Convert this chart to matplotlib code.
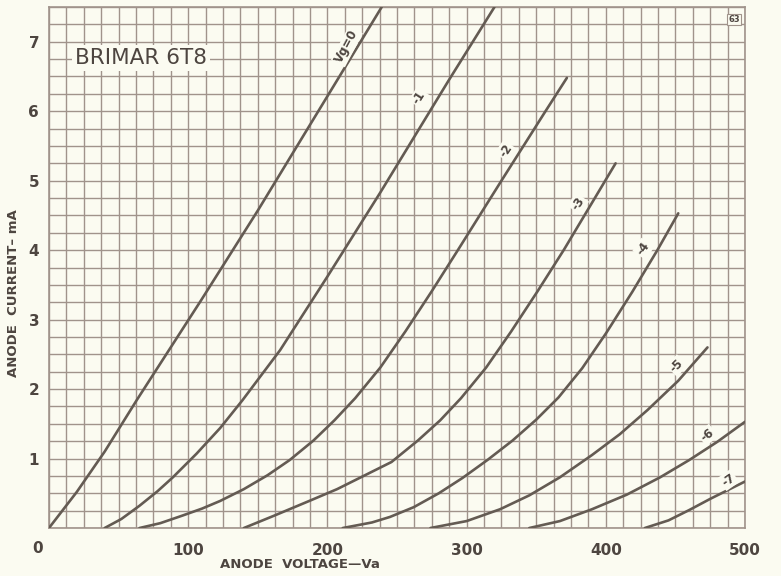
import matplotlib
matplotlib.use("Agg")
import matplotlib.pyplot as plt
import numpy as np

# anode characteristics (Va in volts, Ia in mA)
va_g0 = [0, 20, 40, 63, 109, 150, 198, 239]
ia_g0 = [0, 0.52, 1.1, 1.84, 3.27, 4.57, 6.15, 7.5]

va_g1 = [40, 52, 65, 78, 89, 106, 123, 139, 166, 200, 238, 287, 320]
ia_g1 = [0, 0.13, 0.32, 0.53, 0.73, 1.07, 1.44, 1.84, 2.56, 3.62, 4.83, 6.44, 7.5]

va_g2 = [65, 80, 96, 110, 123, 140, 157, 173, 190, 205, 220, 238, 256, 275, 294, 325, 356, 372]
ia_g2 = [0, 0.07, 0.18, 0.28, 0.39, 0.56, 0.76, 0.98, 1.26, 1.55, 1.87, 2.31, 2.83, 3.41,
         4.01, 5.0, 5.98, 6.48]

va_g3 = [140, 162, 187, 207, 227, 246, 265, 281, 296, 314, 332, 351, 370, 407]
ia_g3 = [0, 0.18, 0.39, 0.56, 0.76, 0.95, 1.26, 1.55, 1.87, 2.31, 2.83, 3.41, 4.01, 5.25]

va_g4 = [211, 232, 245, 262, 280, 297, 315, 333, 350, 366, 383, 400, 419, 437, 452]
ia_g4 = [0, 0.08, 0.16, 0.3, 0.5, 0.72, 0.98, 1.26, 1.56, 1.88, 2.3, 2.8, 3.4, 4.0, 4.53]

va_g5 = [274, 300, 324, 345, 367, 390, 410, 430, 452, 473]
ia_g5 = [0, 0.1, 0.27, 0.47, 0.73, 1.05, 1.35, 1.7, 2.12, 2.6]

va_g6 = [345, 367, 390, 415, 439, 460, 480, 500]
ia_g6 = [0, 0.1, 0.27, 0.48, 0.73, 0.98, 1.24, 1.53]

va_g7 = [428, 445, 460, 475, 490, 500]
ia_g7 = [0, 0.11, 0.26, 0.42, 0.57, 0.67]

curve_labels = ["Vg=0", "-1", "-2", "-3", "-4", "-5", "-6", "-7"]
label_va = [214, 266, 328, 380, 427, 451, 473, 488]
label_ia = [6.93, 6.19, 5.43, 4.67, 4.02, 2.34, 1.34, 0.69]
label_rot = [62, 58, 56, 55, 55, 45, 38, 35]

x_ticks = [100, 200, 300, 400, 500]
y_ticks = [1, 2, 3, 4, 5, 6, 7]

PAPER = "#fbfbf1"
INK = "#4d4540"
GRID = "#a0938b"
CURVE = "#645b53"


def draw_grid(ax):
    for v in np.arange(0, 500.1, 12.5):
        ax.axvline(v, color=GRID, lw=1.0, zorder=1)
    for i in np.arange(0, 7.51, 0.25):
        ax.axhline(i, color=GRID, lw=1.0, zorder=1)


def main():
    fig = plt.figure(figsize=(7.81, 5.76), dpi=100, facecolor=PAPER)
    ax = fig.add_axes([0.0627, 0.0833, 0.8913, 0.9045])
    ax.set_facecolor(PAPER)
    ax.set_xlim(0, 500)
    ax.set_ylim(0, 7.5)

    draw_grid(ax)

    curves = [(va_g0, ia_g0), (va_g1, ia_g1), (va_g2, ia_g2), (va_g3, ia_g3),
              (va_g4, ia_g4), (va_g5, ia_g5), (va_g6, ia_g6), (va_g7, ia_g7)]
    for va, ia in curves:
        ax.plot(va, ia, color=CURVE, lw=1.9, solid_capstyle="round",
                solid_joinstyle="round", zorder=3)

    for text, x, y, r in zip(curve_labels, label_va, label_ia, label_rot):
        ax.text(x, y, text, rotation=r, ha="center", va="center", fontsize=8.5,
                fontweight="bold", color=INK, zorder=4,
                bbox=dict(facecolor=PAPER, edgecolor="none", pad=1.0))

    ax.text(66, 6.77, "BRIMAR 6T8", ha="center", va="center", fontsize=15.5,
            color=INK, zorder=4,
            bbox=dict(facecolor=PAPER, edgecolor="none", pad=2.0))
    ax.text(492, 7.32, "63", ha="center", va="center", fontsize=6,
            fontweight="bold", color=INK, zorder=4,
            bbox=dict(facecolor=PAPER, edgecolor=GRID, lw=0.8, pad=1.0))

    for side in ax.spines.values():
        side.set_color(GRID)
        side.set_linewidth(1.2)
        side.set_zorder(2)

    ax.set_xticks(x_ticks)
    ax.set_xticklabels([str(t) for t in x_ticks], fontsize=11, fontweight="bold", color=INK)
    ax.set_yticks(y_ticks)
    ax.set_yticklabels([str(t) for t in y_ticks], fontsize=11, fontweight="bold", color=INK)
    ax.tick_params(length=0)
    ax.tick_params(axis="x", pad=11)
    ax.tick_params(axis="y", pad=7)
    # the origin figure sits a little left of the corner on the sheet
    ax.text(-8.5, -0.29, "0", ha="center", va="center", fontsize=11,
            fontweight="bold", color=INK, clip_on=False)

    ax.set_xlabel("ANODE  VOLTAGE\u2014Va", fontsize=9.5, fontweight="bold",
                  color=INK, labelpad=1)
    ax.xaxis.set_label_coords(0.36, -0.057)
    ax.set_ylabel("ANODE  CURRENT\u2013 mA", fontsize=9.5, fontweight="bold",
                  color=INK)
    ax.yaxis.set_label_coords(-0.042, 0.45)

    fig.savefig("out.png", dpi=100, facecolor=PAPER)


if __name__ == "__main__":
    main()
